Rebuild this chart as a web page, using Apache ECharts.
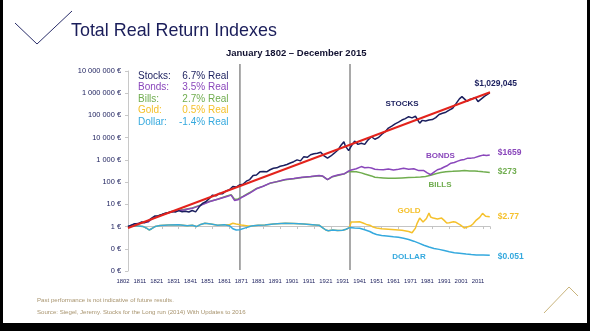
<!DOCTYPE html>
<html>
<head>
<meta charset="utf-8">
<script src="https://cdn.jsdelivr.net/npm/echarts/dist/echarts.min.js"></script>
<style>
  html, body { margin: 0; padding: 0; background: #ffffff; }
  #chart { width: 590px; height: 331px; }
</style>
</head>
<body>
<div id="chart"></div>
<script>
// ---- data -------------------------------------------------------------
const tickLabels = ['1802', '1811', '1821', '1831', '1841', '1851', '1861', '1871', '1881', '1891', '1901',
  '1911', '1921', '1931', '1941', '1951', '1961', '1971', '1981', '1991', '2001', '2011'];
const yearMin = 1802;
const yearMax = 2016.1;
const valueMin = 0.01;
const valueMax = 10000000;
const eraLines = [1868.2, 1933.3];

const seriesNames = ['Stocks', 'Bonds', 'Bills', 'Gold', 'Dollar'];
const seriesTags = ['STOCKS', 'BONDS', 'BILLS', 'GOLD', 'DOLLAR'];
const realReturns = ['6.7% Real', '3.5% Real', '2.7% Real', '0.5% Real', '-1.4% Real'];

// Trend line for stocks (start and end of the fitted 6.7% path)
const stocksTrend = [[1802, 0.86], [2016.1, 1100000]];

const stocks = [
  [1802, 1.0], [1804, 1.15], [1806, 1.35], [1808, 1.3], [1810, 1.6], [1812, 1.5], [1814, 1.8], [1816, 2.4],
  [1818, 3.0], [1820, 3.1], [1822, 3.5], [1824, 4.0], [1826, 4.3], [1828, 4.8], [1830, 4.5], [1832, 5.2],
  [1834, 4.6], [1836, 4.9], [1838, 4.5], [1840, 5.3], [1842, 4.6], [1844, 7.5], [1846, 11], [1848, 13],
  [1850, 18], [1852, 26], [1854, 24], [1856, 31], [1858, 30], [1860, 40], [1862, 45], [1864, 63],
  [1866, 60], [1868, 75], [1870, 80], [1872, 110], [1874, 130], [1876, 200], [1878, 210], [1880, 290],
  [1882, 300], [1884, 290], [1886, 360], [1888, 420], [1890, 440], [1892, 520], [1894, 560], [1896, 620],
  [1898, 720], [1900, 830], [1902, 1000], [1904, 900], [1906, 1400], [1908, 1300], [1910, 1700], [1912, 1900],
  [1914, 2000], [1916, 2200], [1918, 1500], [1920, 1200], [1922, 1500], [1924, 2000], [1926, 2700], [1928, 4600],
  [1929.7, 6600], [1930.5, 4300], [1932.5, 2600], [1933.5, 3600], [1936, 7000], [1937, 6000], [1938, 5000],
  [1940, 5600], [1942, 5000], [1944, 8000], [1946, 11000], [1948, 8500], [1950, 10000], [1952, 14000],
  [1954, 18000], [1956, 27000], [1958, 33000], [1960, 42000], [1962, 50000], [1964, 62000], [1966, 72000],
  [1968, 88000], [1970, 78000], [1972, 92000], [1974.5, 45000], [1976, 60000], [1978, 56000], [1980, 62000],
  [1982, 65000], [1984, 80000], [1986, 110000], [1988, 125000], [1990, 140000], [1992, 175000], [1994, 210000],
  [1996, 340000], [1998, 560000], [1999.5, 700000], [2000.5, 680000], [2002.5, 430000], [2004, 520000],
  [2006, 580000], [2007.5, 640000], [2009, 420000], [2011, 560000], [2013, 740000], [2014, 880000],
  [2015.96, 1029045]
];

const bonds = [
  [1802, 1.0], [1806, 1.3], [1810, 1.5], [1814, 1.6], [1816, 2.2], [1820, 3.0], [1825, 4.0], [1830, 5.0],
  [1835, 5.6], [1840, 6.6], [1845, 9], [1850, 13], [1855, 17], [1860, 22], [1863, 26], [1865, 15],
  [1867, 16], [1870, 22], [1874, 32], [1878, 50], [1882, 65], [1886, 90], [1890, 105], [1895, 130],
  [1900, 145], [1905, 165], [1910, 180], [1915, 200], [1917, 190], [1920, 130], [1923, 180], [1926, 210],
  [1930, 240], [1932, 300], [1934, 350], [1937, 400], [1940, 500], [1942, 440], [1944, 460], [1946, 430],
  [1948, 380], [1950, 370], [1953, 360], [1956, 390], [1959, 350], [1962, 380], [1965, 420], [1968, 380],
  [1971, 400], [1974, 330], [1977, 330], [1979, 260], [1981, 215], [1983, 280], [1985, 360], [1987, 400],
  [1989, 480], [1991, 560], [1993, 710], [1995, 760], [1997, 880], [1999, 980], [2001, 1050], [2003, 1200],
  [2005, 1200], [2007, 1260], [2008, 1450], [2010, 1500], [2012, 1640], [2014, 1560], [2015.96, 1659]
];

const bills = [
  [1802, 1.0], [1806, 1.25], [1810, 1.5], [1814, 1.7], [1816, 2.2], [1820, 3.1], [1825, 4.1], [1830, 5.1],
  [1835, 5.8], [1840, 6.8], [1845, 9.5], [1850, 13.5], [1855, 17], [1860, 23], [1863, 27], [1865, 17],
  [1867, 17.5], [1870, 23], [1874, 34], [1878, 52], [1882, 66], [1886, 88], [1890, 104], [1895, 128],
  [1900, 143], [1905, 160], [1910, 175], [1915, 195], [1917, 185], [1920, 128], [1923, 175], [1926, 200],
  [1930, 235], [1932, 290], [1934, 300], [1937, 290], [1940, 260], [1942, 230], [1944, 210], [1946, 190],
  [1948, 165], [1950, 160], [1953, 155], [1956, 150], [1960, 150], [1964, 155], [1968, 160], [1972, 165],
  [1975, 170], [1978, 180], [1981, 205], [1984, 240], [1987, 270], [1990, 295], [1994, 305], [1998, 320],
  [2001, 330], [2004, 315], [2007, 320], [2009, 305], [2012, 290], [2015.96, 273]
];

const gold = [
  [1802, 1.05], [1805, 1.1], [1808, 1.05], [1811, 1.0], [1813, 0.85], [1814.5, 0.7], [1816, 0.8], [1818, 1.0],
  [1821, 1.12], [1826, 1.18], [1832, 1.2], [1837, 1.1], [1840, 1.15], [1842.5, 1.0], [1845, 1.25], [1847.5, 1.4],
  [1851, 1.3], [1855, 1.15], [1859, 1.2], [1862, 1.2], [1864, 1.4], [1866, 1.3], [1869, 1.18], [1873, 1.06],
  [1875, 1.05], [1879, 1.15], [1883, 1.18], [1888, 1.3], [1895, 1.42], [1900, 1.38], [1906, 1.3], [1911, 1.22],
  [1915, 1.15], [1917, 0.9], [1919, 0.7], [1920.5, 0.65], [1923, 0.7], [1926, 0.66], [1929, 0.68], [1931, 0.76],
  [1933, 0.9], [1934, 1.62], [1936, 1.6], [1939, 1.65], [1941, 1.45], [1943, 1.25], [1945, 1.15], [1947, 0.95],
  [1949, 0.86], [1952, 0.8], [1956, 0.76], [1960, 0.72], [1964, 0.68], [1968, 0.6], [1970, 0.53], [1971, 0.6],
  [1972, 0.85], [1973, 1.4], [1974.5, 2.4], [1975.5, 2.0], [1976.5, 1.6], [1977.5, 1.8], [1978.5, 2.3],
  [1980, 4.0], [1981, 2.7], [1982.5, 2.4], [1985, 2.2], [1987.5, 2.4], [1989, 1.9], [1990.5, 1.45], [1992, 1.5],
  [1994.5, 1.65], [1996, 1.55], [1998.5, 1.2], [2001, 0.85], [2002.5, 0.95], [2004.5, 1.05], [2006, 1.3],
  [2008, 1.95], [2010, 2.6], [2011.7, 3.9], [2012.5, 3.7], [2013.5, 2.9], [2014.5, 2.7], [2015.96, 2.77]
];

const dollar = [
  [1802, 1.05], [1805, 1.1], [1808, 1.05], [1811, 1.0], [1813, 0.85], [1814.5, 0.7], [1816, 0.8], [1818, 1.0],
  [1821, 1.12], [1826, 1.18], [1832, 1.2], [1837, 1.1], [1840, 1.15], [1842.5, 1.0], [1845, 1.25], [1847.5, 1.4],
  [1851, 1.3], [1855, 1.15], [1859, 1.2], [1862, 1.1], [1864, 0.8], [1866, 0.7], [1868, 0.72], [1871, 0.85],
  [1875, 1.05], [1879, 1.15], [1883, 1.18], [1888, 1.3], [1895, 1.42], [1900, 1.38], [1906, 1.3], [1911, 1.22],
  [1915, 1.15], [1917, 0.9], [1919, 0.7], [1920.5, 0.65], [1923, 0.7], [1926, 0.66], [1929, 0.68], [1931, 0.76],
  [1933, 0.9], [1936, 0.86], [1939, 0.84], [1942, 0.72], [1945, 0.6], [1947, 0.5], [1949, 0.44], [1952, 0.4],
  [1955, 0.38], [1959, 0.35], [1962, 0.33], [1965, 0.3], [1968, 0.26], [1971, 0.22], [1974, 0.18], [1977, 0.145],
  [1980, 0.12], [1983, 0.103], [1986, 0.094], [1989, 0.084], [1992, 0.074], [1995, 0.067], [1998, 0.063],
  [2002, 0.058], [2005, 0.055], [2008, 0.053], [2012, 0.052], [2015.96, 0.051]
];

// ---- styling ------------------------------------------------------------
const FONT = '"Liberation Sans", Arial, Helvetica, sans-serif';
const NAVY = '#1b1e5c';
const colors = {
  Stocks: '#1b1f5e',
  Bonds: '#8a47bb',
  Bills: '#70ad4f',
  Gold: '#f5c12c',
  Dollar: '#35a9de',
  trend: '#e3231c',
  era: '#8c8c8c',
  baseline: '#c4c4c4',
  footer: '#a8946e'
};

const gridLeft = 128, gridRight = 100, gridTop = 71, gridBottom = 60;
const plotHeight = 331 - gridTop - gridBottom;
// pixel offset of the value-1 baseline above the bottom of the plot
const logSpan = Math.log10(valueMax) - Math.log10(valueMin);
const baselineOffset = -plotHeight * (Math.log10(1) - Math.log10(valueMin)) / logSpan;

function groupDigits(n, sep) {
  return String(n).replace(/\B(?=(\d{3})+(?!\d))/g, sep);
}

function lineSeries(name, data, z, endFormatter, endLabel) {
  const last = data[data.length - 1];
  return {
    name: name,
    type: 'line',
    xAxisIndex: 0,
    yAxisIndex: 0,
    data: data,
    showSymbol: false,
    symbol: 'none',
    z: z,
    lineStyle: { color: colors[name], width: 1.5 },
    itemStyle: { color: colors[name] },
    markPoint: {
      symbol: 'circle',
      symbolSize: 0,
      animation: false,
      itemStyle: { color: 'transparent' },
      label: Object.assign({
        show: true,
        color: colors[name],
        fontFamily: FONT,
        fontSize: 8.5,
        fontWeight: 'bold',
        formatter: endFormatter
      }, endLabel),
      data: [{ coord: last, value: last[1] }]
    }
  };
}

const chart = echarts.init(document.getElementById('chart'), null, { renderer: 'canvas' });

const series = [
  lineSeries('Bills', bills, 3, p => '$' + p.value, { position: 'right', distance: 8, offset: [0, -1] }),
  lineSeries('Bonds', bonds, 4, p => '$' + p.value, { position: 'right', distance: 8, offset: [0, -2] }),
  lineSeries('Gold', gold, 5, p => '$' + p.value, { position: 'right', distance: 8, offset: [0, 0] }),
  lineSeries('Dollar', dollar, 6, p => '$' + p.value, { position: 'right', distance: 8, offset: [0, 1] }),
  lineSeries('Stocks', stocks, 7, p => '$' + groupDigits(p.value, ','), { position: 'top', distance: 5, offset: [6, 0] }),
  {
    name: 'Trend',
    type: 'line',
    xAxisIndex: 0,
    yAxisIndex: 0,
    data: stocksTrend,
    showSymbol: false,
    symbol: 'none',
    z: 8,
    lineStyle: { color: colors.trend, width: 2 }
  }
];

eraLines.forEach(function (yr) {
  series.push({
    type: 'line',
    xAxisIndex: 2,
    yAxisIndex: 1,
    data: [[yr, 0], [yr, 1]],
    showSymbol: false,
    symbol: 'none',
    z: 2,
    lineStyle: { color: colors.era, width: 1.5 }
  });
});

// descriptive text around the plot
const graphics = [];
function addText(text, x, y, opts) {
  graphics.push({
    type: 'text',
    x: x,
    y: y,
    z: 100,
    silent: true,
    style: Object.assign({
      text: text,
      fontFamily: FONT,
      fontSize: 10,
      fill: NAVY,
      align: 'left',
      verticalAlign: 'middle'
    }, opts)
  });
}

addText('Total Real Return Indexes', 71, 31, { fontSize: 17.9, fill: '#1a1d5a' });
addText('January 1802 \u2013 December 2015', 226, 53, { fontSize: 9.5, fontWeight: 'bold', fill: '#101030' });

const legendRows = [76, 87.7, 99, 110.5, 122.5];
seriesNames.forEach(function (name, i) {
  addText(name + ':', 138, legendRows[i], { fontSize: 10, fill: colors[name] });
  addText(realReturns[i], 228.5, legendRows[i], { fontSize: 10, fill: colors[name], align: 'right' });
});

const tagPos = [[402, 104], [440.5, 156], [440, 185], [409, 211], [409, 256.7]];
seriesTags.forEach(function (tag, i) {
  addText(tag, tagPos[i][0], tagPos[i][1], {
    fontSize: 8, fontWeight: 'bold', fill: colors[seriesNames[i]], align: 'center'
  });
});

addText('Past performance is not indicative of future results.', 37, 300, { fontSize: 6.1, fill: colors.footer });
addText('Source: Siegel, Jeremy. Stocks for the Long run (2014) With Updates to 2016', 37, 312.8,
  { fontSize: 6.1, fill: colors.footer });

// slide ornaments
graphics.push({
  type: 'polyline', silent: true, z: 100,
  shape: { points: [[15, 23], [37, 44], [72, 11]] },
  style: { stroke: '#2a2e6a', lineWidth: 1, fill: null }
});
graphics.push({
  type: 'polyline', silent: true, z: 100,
  shape: { points: [[544, 313], [569, 287], [578, 296]] },
  style: { stroke: '#c9b47c', lineWidth: 1, fill: null }
});
// dark frame at the slide edges
graphics.push({ type: 'rect', silent: true, z: 101, shape: { x: 0, y: 0, width: 3, height: 331 }, style: { fill: '#000' } });
graphics.push({ type: 'rect', silent: true, z: 101, shape: { x: 587, y: 0, width: 3, height: 331 }, style: { fill: '#000' } });
graphics.push({ type: 'rect', silent: true, z: 101, shape: { x: 0, y: 323, width: 590, height: 8 }, style: { fill: '#000' } });

const option = {
  animation: false,
  backgroundColor: '#ffffff',
  grid: [
    { left: gridLeft, right: gridRight, top: gridTop, bottom: gridBottom, containLabel: false, outerBoundsMode: 'none' },
    { left: gridLeft, right: gridRight, top: 64, bottom: 61, containLabel: false, outerBoundsMode: 'none' }
  ],
  xAxis: [
    {
      gridIndex: 0,
      type: 'value',
      min: yearMin,
      max: yearMax,
      interval: 10,
      position: 'bottom',
      axisLine: { show: false },
      axisTick: { show: false },
      splitLine: { show: false },
      axisLabel: {
        show: true,
        fontFamily: FONT,
        fontSize: 5.9,
        color: NAVY,
        margin: 7,
        padding: [0, 10, 0, 0],
        hideOverlap: false,
        showMinLabel: true,
        showMaxLabel: true,
        formatter: function (v) {
          const k = (v - yearMin) / 10;
          if (Math.abs(k - Math.round(k)) > 1e-6) return '';
          return tickLabels[Math.round(k)] || '';
        }
      }
    },
    {
      // the baseline drawn at a value of 1
      gridIndex: 0,
      type: 'value',
      min: yearMin,
      max: yearMax,
      interval: 10,
      position: 'bottom',
      offset: baselineOffset,
      axisLine: { show: true, onZero: false, lineStyle: { color: colors.baseline, width: 1 } },
      axisTick: { show: true, length: 2.5, lineStyle: { color: colors.baseline, width: 1 } },
      axisLabel: { show: false },
      splitLine: { show: false }
    },
    {
      gridIndex: 1,
      type: 'value',
      min: yearMin,
      max: yearMax,
      show: false
    }
  ],
  yAxis: [
    {
      gridIndex: 0,
      type: 'log',
      logBase: 10,
      min: valueMin,
      max: valueMax,
      splitNumber: 10,
      axisLine: { show: true, lineStyle: { color: '#c8c8c8', width: 1 } },
      axisTick: { show: true, length: 3, lineStyle: { color: '#c8c8c8' } },
      splitLine: { show: false },
      axisLabel: {
        fontFamily: FONT,
        fontSize: 7.4,
        color: NAVY,
        margin: 7,
        formatter: function (v) { return groupDigits(Math.round(v), ' ') + ' \u20ac'; }
      }
    },
    {
      gridIndex: 1,
      type: 'value',
      min: 0,
      max: 1,
      show: false
    }
  ],
  series: series,
  graphic: graphics
};

chart.setOption(option);
</script>
</body>
</html>
